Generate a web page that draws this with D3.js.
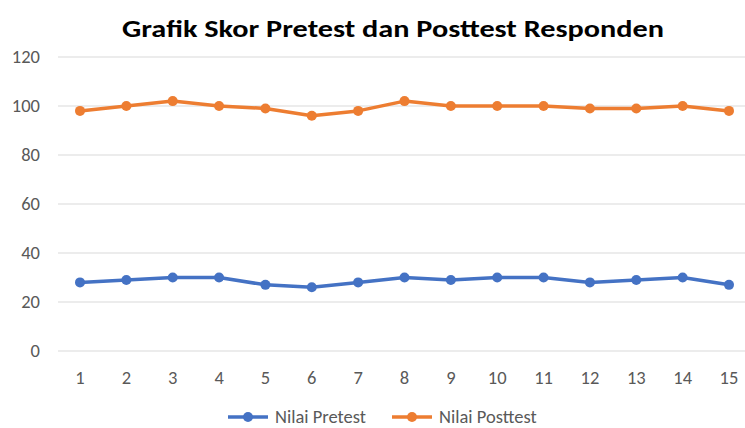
<!DOCTYPE html>
<html><head><meta charset="utf-8">
<script src="https://cdn.jsdelivr.net/npm/d3@7/dist/d3.min.js"></script>
<style>body{margin:0;background:#fff}svg{display:block}</style>
</head><body>
<svg id="c" width="745" height="428"></svg>
<script>
const categories = ["1","2","3","4","5","6","7","8","9","10","11","12","13","14","15"];
const pretest = [28,29,30,30,27,26,28,30,29,30,30,28,29,30,27];
const posttest = [98,100,102,100,99,96,98,102,100,100,100,99,99,100,98];
const yTicks = [0,20,40,60,80,100,120];
const seriesNames = ["Nilai Pretest","Nilai Posttest"];
const colors = ["#4472C4","#ED7D31"];
const title = "Grafik Skor Pretest dan Posttest Responden";

const svg = d3.select("#c");
const font = "Calibri, Carlito, 'Open Sans', 'Liberation Sans', sans-serif";
const x = d3.scalePoint().domain(categories).range([80, 729]);
const y = d3.scaleLinear().domain([0,120]).range([351, 57]);

// gridlines
svg.append("g").selectAll("line").data(yTicks).join("line")
  .attr("x1", 58).attr("x2", 745)
  .attr("y1", d=>y(d)).attr("y2", d=>y(d))
  .attr("stroke", "#d9d9d9").attr("stroke-width", 1);

// y axis labels
svg.append("g").selectAll("text").data(yTicks).join("text")
  .attr("x", 40).attr("y", d=>y(d)).attr("dy","0.35em")
  .attr("text-anchor","end").attr("fill","#595959")
  .style("font-family", font).style("font-size","18.5px").text(d=>d);

// x axis labels
svg.append("g").selectAll("text").data(categories).join("text")
  .attr("x", d=>x(d)).attr("y", 378).attr("dy","0.35em")
  .attr("text-anchor","middle").attr("fill","#595959")
  .style("font-family", font).style("font-size","18.5px").text(d=>d);

const series = [pretest, posttest];
const line = d3.line().x((d,i)=>x(categories[i])).y(d=>y(d));
series.forEach((s, k) => {
  const g = svg.append("g");
  g.append("path").datum(s).attr("d", line).attr("fill","none")
    .attr("stroke", colors[k]).attr("stroke-width", 3.5).attr("stroke-linejoin","round");
  g.selectAll("circle").data(s).join("circle")
    .attr("cx",(d,i)=>x(categories[i])).attr("cy", d=>y(d)).attr("r", 5)
    .attr("fill", colors[k]);
});

// title
svg.append("text").attr("x", 393).attr("y", 28).attr("dy","0.35em")
  .attr("text-anchor","middle").attr("fill","#000")
  .style("font-family", font).style("font-weight","bold").style("font-size","25px")
  .attr("textLength", 542).attr("lengthAdjust","spacingAndGlyphs")
  .text(title);

// legend
const legX = [228, 392];
seriesNames.forEach((n, k) => {
  const g = svg.append("g").attr("transform", `translate(${legX[k]},417)`);
  g.append("line").attr("x1",0).attr("x2",40).attr("y1",0).attr("y2",0)
    .attr("stroke", colors[k]).attr("stroke-width", 3.5);
  g.append("circle").attr("cx",20).attr("cy",0).attr("r",5).attr("fill",colors[k]);
  g.append("text").attr("x",47).attr("y",0).attr("dy","0.35em")
    .attr("fill","#595959").style("font-family", font).style("font-size","18.5px").text(n);
});
</script>
</body></html>
